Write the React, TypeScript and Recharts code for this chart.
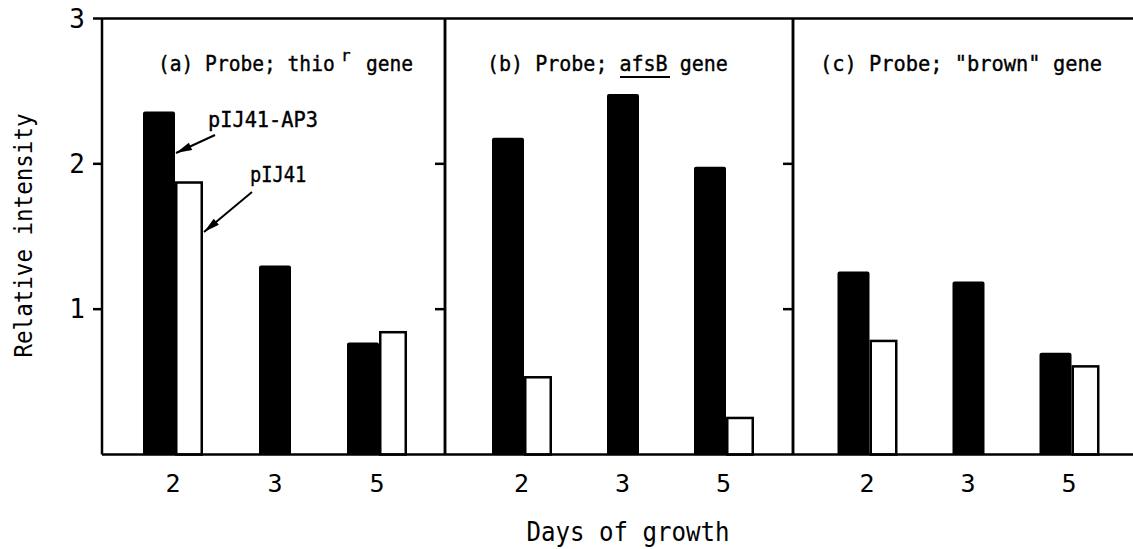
import React from 'react';
import { BarChart, Bar, XAxis, YAxis, ReferenceLine, Label } from 'recharts';

// ---------------- data ----------------
const days = ['2', '3', '5'];
const thioBlack = [2.36, 1.3, 0.77];
const thioWhite = [1.88, null, 0.85];
const afsBBlack = [2.18, 2.48, 1.98];
const afsBWhite = [0.54, null, 0.26];
const brownBlack = [1.26, 1.19, 0.7];
const brownWhite = [0.79, null, 0.615];
const yTickValues = [1, 2, 3];
const dividerTickValues = [1, 2];
const seriesBlackName = 'pIJ41-AP3';
const seriesWhiteName = 'pIJ41';
const yTitle = 'Relative intensity';
const xTitle = 'Days of growth';

type Row = { day: string; black: number | null; white: number | null };
const buildRows = (b: (number | null)[], w: (number | null)[]): Row[] =>
  days.map((d, i) => ({ day: d, black: b[i], white: w[i] }));

const thioRows = buildRows(thioBlack, thioWhite);
const afsBRows = buildRows(afsBBlack, afsBWhite);
const brownRows = buildRows(brownBlack, brownWhite);

// ---------------- style ----------------
const FONT = '"DejaVu Sans Mono", "Liberation Mono", monospace';
const INK = '#000';
const LW = 2.5;
const BLACK_W = 32;
const WHITE_W = 28;
const H = 549;

const BlackShape = (props: any) => {
  const { x, y, width, height, payload } = props;
  if (height == null || !(height > 0)) return null;
  const shift = payload && payload.white == null ? WHITE_W / 2 : 0;
  const x0 = x + shift;
  const r = 2;
  const d = `M${x0},${y + height} L${x0},${y + r} Q${x0},${y} ${x0 + r},${y} L${x0 + width - r},${y} Q${x0 + width},${y} ${x0 + width},${y + r} L${x0 + width},${y + height} Z`;
  return <path d={d} fill={INK} />;
};

const WhiteShape = (props: any) => {
  const { x, y, width, height } = props;
  if (height == null || !(height > 0)) return null;
  return (
    <rect
      x={x + LW / 2}
      y={y + LW / 2}
      width={width - LW}
      height={height - LW / 2}
      fill="#fff"
      stroke={INK}
      strokeWidth={LW}
    />
  );
};

const NoTick = () => <g />;

const YTitle = (props: any) => {
  const vb = props.viewBox || { x: 0, y: 18.5, width: 102, height: 436 };
  const cx = vb.x + 23;
  const cy = vb.y + vb.height / 2 - 1;
  return (
    <text
      x={cx}
      y={cy}
      transform={`rotate(-90, ${cx}, ${cy})`}
      textAnchor="middle"
      dominantBaseline="central"
      fontFamily={FONT}
      fontSize={25}
      fill={INK}
      textLength={244}
      lengthAdjust="spacingAndGlyphs"
    >
      {yTitle}
    </text>
  );
};

const XTitle = (props: any) => {
  const vb = props.viewBox || { x: 445, y: 454.5, width: 348, height: 40 };
  const cx = vb.x + vb.width / 2 + 9;
  return (
    <text
      x={cx}
      y={541}
      textAnchor="middle"
      fontFamily={FONT}
      fontSize={26}
      fill={INK}
      textLength={203}
      lengthAdjust="spacingAndGlyphs"
    >
      {xTitle}
    </text>
  );
};

type PanelProps = {
  rows: Row[];
  left: number;
  leftAxisWidth: number;
  plotWidth: number;
  padL: number;
  padR: number;
  main?: boolean;
  inwardRight?: boolean;
  showXTitle?: boolean;
};

const Panel = ({ rows, left, leftAxisWidth, plotWidth, padL, padR, main, inwardRight, showXTitle }: PanelProps) => {
  const rightW = 12;
  const width = leftAxisWidth + plotWidth + rightW;
  const margin = { top: 18.5, right: inwardRight ? rightW : 0, bottom: 54.5, left: 0 };
  return (
    <div style={{ position: 'absolute', left, top: 0 }}>
      <BarChart width={width} height={H} data={rows} margin={margin} barGap={0}>
        <XAxis
          dataKey="day"
          height={40}
          interval={0}
          tickLine={false}
          tickSize={0}
          tickMargin={20}
          axisLine={{ stroke: INK, strokeWidth: LW }}
          tick={{ fill: INK, fontSize: 25, fontFamily: FONT }}
          padding={{ left: padL, right: padR }}
        >
          {showXTitle ? <Label content={XTitle} /> : null}
        </XAxis>
        {main ? (
          <YAxis
            yAxisId="l"
            width={leftAxisWidth}
            domain={[0, 3]}
            ticks={yTickValues}
            interval={0}
            tickSize={9}
            tickMargin={8}
            axisLine={{ stroke: INK, strokeWidth: LW }}
            tickLine={{ stroke: INK, strokeWidth: LW }}
            tick={{ fill: INK, fontSize: 26, fontFamily: FONT }}
          >
            <Label content={YTitle} />
          </YAxis>
        ) : (
          <YAxis
            yAxisId="l"
            width={leftAxisWidth}
            domain={[0, 3]}
            ticks={dividerTickValues}
            interval={0}
            tickSize={10}
            axisLine={{ stroke: INK, strokeWidth: LW }}
            tickLine={{ stroke: INK, strokeWidth: LW }}
            tick={NoTick}
          />
        )}
        <YAxis
          yAxisId="r"
          orientation="right"
          width={rightW}
          domain={[0, 3]}
          ticks={dividerTickValues}
          interval={0}
          mirror={!!inwardRight}
          tickSize={inwardRight ? 14 : 10}
          axisLine={{ stroke: INK, strokeWidth: LW }}
          tickLine={{ stroke: INK, strokeWidth: LW }}
          tick={NoTick}
        />
        <ReferenceLine yAxisId="l" y={3} stroke={INK} strokeWidth={LW} />
        <Bar
          yAxisId="l"
          dataKey="black"
          name={seriesBlackName}
          barSize={BLACK_W}
          shape={BlackShape}
          isAnimationActive={false}
        />
        <Bar
          yAxisId="l"
          dataKey="white"
          name={seriesWhiteName}
          barSize={WHITE_W}
          shape={WhiteShape}
          isAnimationActive={false}
        />
      </BarChart>
    </div>
  );
};

const arrowHead = (x1: number, y1: number, x2: number, y2: number) => {
  const dx = x2 - x1;
  const dy = y2 - y1;
  const len = Math.sqrt(dx * dx + dy * dy);
  const ux = dx / len;
  const uy = dy / len;
  const L = 16;
  const hw = 4;
  const bx = x2 - ux * L;
  const by = y2 - uy * L;
  return `${x2},${y2} ${bx - uy * hw},${by + ux * hw} ${bx + uy * hw},${by - ux * hw}`;
};

const Arrow = ({ x1, y1, x2, y2 }: { x1: number; y1: number; x2: number; y2: number }) => (
  <g>
    <line x1={x1} y1={y1} x2={x2} y2={y2} stroke={INK} strokeWidth={2} />
    <polygon points={arrowHead(x1, y1, x2, y2)} fill={INK} />
  </g>
);

const Squeezed = ({ x, y, sx, children }: { x: number; y: number; sx: number; children: React.ReactNode }) => (
  <g transform={`translate(${x},${y}) scale(${sx},1)`}>
    <text x={0} y={0} fontSize={22}>
      {children}
    </text>
  </g>
);

const Overlay = () => (
  <svg
    width={1133}
    height={H}
    style={{ position: 'absolute', left: 0, top: 0, pointerEvents: 'none' }}
  >
    <g fontFamily={FONT} fill={INK} stroke={INK} strokeWidth={0.4}>
      {/* panel titles */}
      <Squeezed x={158} y={71} sx={0.89}>
        (a) Probe; thio
      </Squeezed>
      <text x={341} y={61} fontSize={16}>
        r
      </text>
      <Squeezed x={366} y={71} sx={0.89}>
        gene
      </Squeezed>

      <Squeezed x={487} y={71} sx={0.91}>
        (b) Probe; afsB gene
      </Squeezed>
      <line x1={620} y1={77} x2={670} y2={77} stroke={INK} strokeWidth={2} />

      <Squeezed x={820} y={71} sx={0.926}>
        (c) Probe; "brown" gene
      </Squeezed>

      {/* series annotations */}
      <Squeezed x={208} y={127} sx={0.923}>
        {seriesBlackName}
      </Squeezed>
      <Squeezed x={250} y={182} sx={0.85}>
        {seriesWhiteName}
      </Squeezed>
    </g>
    <Arrow x1={215} y1={135} x2={176} y2={153} />
    <Arrow x1={252} y1={192} x2={204} y2={232} />
  </svg>
);

export default function App() {
  return (
    <div
      style={{
        position: 'absolute',
        left: 0,
        top: 0,
        width: 1133,
        height: H,
        overflow: 'hidden',
        background: '#fff',
      }}
    >
      <Panel rows={thioRows} left={0} leftAxisWidth={102} plotWidth={343} padL={20} padR={17} main />
      <Panel rows={afsBRows} left={433} leftAxisWidth={12} plotWidth={348} padL={26} padR={19} showXTitle />
      <Panel rows={brownRows} left={781} leftAxisWidth={12} plotWidth={348} padL={23.5} padR={21.5} inwardRight />
      <Overlay />
    </div>
  );
}
